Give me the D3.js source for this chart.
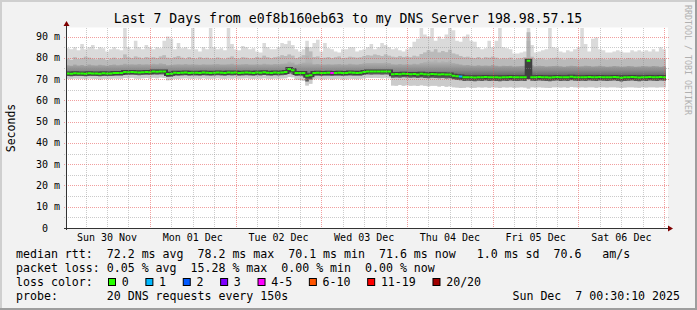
<!DOCTYPE html>
<html><head><meta charset="utf-8">
<script src="https://cdn.jsdelivr.net/npm/d3@7"></script>
<style>
html,body{margin:0;padding:0;background:#f2f2f2;}
svg{display:block;}
text{font-family:"DejaVu Sans Mono",monospace;white-space:pre;}
</style>
</head><body>
<svg id="chart" width="697" height="310"></svg>
<script>
// ---------- DATA ----------
const titleText = "Last 7 Days from e0f8b160eb63 to my DNS Server 198.98.57.15";
const startTime = new Date(Date.UTC(2025, 10, 30, 0, 30, 10));
const endTime = new Date(Date.UTC(2025, 11, 7, 0, 30, 10));

// hourly values (ms), index 0 = Sun 30 Nov 00:30
const rttMedian = [
 72.6,72.5,72.7,72.6,72.6,72.5,72.7,72.6,72.6,72.5,72.7,72.6,72.6,72.8,72.8,72.9,73.3,73.2,73.3,73.2,73.1,73.2,73.3,73.2,
 73.5,73.4,73.6,73.5,72.4,72.5,73.0,72.9,73.0,73.1,72.9,73.0,73.0,72.9,73.1,73.0,72.9,73.0,73.1,73.0,72.9,73.1,73.0,73.1,
 72.9,73.0,73.1,73.0,72.9,73.1,73.0,73.2,73.0,72.9,73.1,73.0,73.1,73.3,74.7,74.2,72.8,72.9,72.8,71.6,71.8,72.9,73.0,72.8,
 72.9,73.0,72.8,72.9,73.0,72.8,72.9,73.1,73.0,72.9,73.0,73.3,73.6,73.5,73.6,73.6,73.5,73.6,73.5,72.3,72.4,72.3,72.5,72.4,
 72.3,72.4,72.2,72.5,72.3,72.2,72.4,72.3,72.2,72.3,72.1,72.2,71.6,71.3,71.2,70.8,70.9,70.8,70.7,70.9,70.8,71.0,70.8,70.9,
 70.8,70.7,70.9,70.8,71.0,70.8,70.8,70.9,70.8,78.6,70.9,70.8,71.0,70.9,70.8,70.7,70.9,71.0,70.8,70.9,70.8,71.1,70.9,70.8,
 70.9,70.8,71.0,70.9,70.8,71.0,70.9,70.8,70.9,71.0,70.8,70.6,70.8,70.9,71.0,70.8,70.7,70.9,70.8,71.0,70.9,70.8,71.0,70.9
];
const rttP25 = [
 71.4,71.3,71.5,71.4,71.4,71.3,71.5,71.4,71.4,71.3,71.5,71.4,71.4,71.6,71.5,71.6,71.9,71.9,72.0,71.9,71.8,71.9,72.0,71.9,
 72.1,72.0,72.2,72.1,71.0,71.1,71.7,71.6,71.7,71.8,71.6,71.7,71.7,71.6,71.8,71.7,71.6,71.7,71.8,71.7,71.6,71.8,71.7,71.8,
 71.6,71.7,71.8,71.7,71.6,71.8,71.7,71.9,71.7,71.6,71.8,71.7,71.8,71.9,72.6,72.3,71.4,71.5,71.3,68.8,69.8,71.5,71.6,71.4,
 71.5,71.6,71.4,71.5,71.6,71.4,71.5,71.7,71.6,71.5,71.6,71.9,72.1,72.0,72.1,72.1,72.0,72.1,72.0,70.6,70.7,70.6,70.8,70.7,
 70.6,70.7,70.5,70.7,70.5,70.4,70.6,70.5,70.4,70.5,70.3,70.4,69.9,69.6,69.4,69.1,69.2,69.1,69.0,69.2,69.1,69.3,69.1,69.2,
 69.1,69.0,69.2,69.1,69.3,69.1,69.1,69.2,69.1,71.0,69.2,69.1,69.3,69.2,69.1,69.0,69.2,69.3,69.1,69.2,69.1,69.4,69.2,69.1,
 69.2,69.1,69.3,69.2,69.1,69.3,69.2,69.1,69.2,69.3,69.1,68.9,69.1,69.2,69.3,69.1,69.0,69.2,69.1,69.3,69.2,69.1,69.3,69.2
];
const rttMin = [
 70.2,70.0,70.3,70.1,70.2,69.9,70.3,70.1,70.0,69.8,70.2,70.1,70.0,70.3,70.1,70.2,70.5,70.4,70.6,70.3,70.2,70.4,70.5,70.3,
 70.6,70.4,70.7,70.5,69.5,69.7,70.2,70.0,70.3,70.4,70.1,70.2,70.3,70.0,70.4,70.2,70.1,70.3,70.4,70.2,70.0,70.3,70.2,70.4,
 70.1,70.3,70.4,70.2,70.0,70.3,70.2,70.4,70.2,70.0,70.3,70.2,70.3,70.4,71.0,70.8,69.8,69.6,69.2,67.0,67.8,69.9,70.1,69.8,
 69.9,70.1,69.8,70.0,70.1,69.8,69.9,70.2,70.0,69.9,70.1,70.4,70.6,70.5,70.6,70.5,70.4,70.6,70.4,67.0,66.8,67.2,66.9,67.1,
 66.8,67.0,66.7,67.1,66.8,66.6,66.9,66.8,66.5,66.7,66.4,66.6,66.2,66.0,65.8,65.9,66.1,65.8,65.9,66.2,66.0,66.1,65.9,66.2,
 66.0,65.8,66.1,66.0,66.2,65.9,66.0,66.1,66.0,65.6,66.1,66.0,66.2,66.0,65.9,65.8,66.1,66.2,66.0,66.1,65.9,66.3,66.1,66.0,
 66.1,66.0,66.2,66.1,65.9,66.2,66.1,66.0,66.1,66.2,66.0,65.8,66.0,66.1,66.2,66.0,65.9,66.1,66.0,66.2,66.1,66.0,66.2,66.1
];
const rttP75 = [
 76.5,76.2,76.8,76.4,76.6,76.3,76.9,76.5,76.4,76.7,76.5,76.3,76.6,76.8,76.5,76.7,77.2,76.9,77.0,76.8,77.1,76.9,77.0,76.8,
 77.2,77.0,77.4,77.1,76.5,76.6,76.9,77.0,76.8,77.1,76.9,77.0,76.8,76.7,77.0,76.9,76.8,77.0,77.1,76.9,76.8,77.0,77.2,76.9,
 76.8,77.0,77.1,76.9,76.8,77.0,76.9,77.2,77.0,76.8,77.1,77.0,77.2,77.3,78.3,77.8,76.9,77.2,77.8,81.0,79.5,77.0,77.1,76.8,
 76.9,77.0,76.8,77.0,77.1,76.8,76.9,77.2,77.0,76.9,77.1,77.4,77.6,77.5,77.7,77.6,77.5,77.8,77.6,77.0,76.8,77.1,76.9,77.0,
 76.8,77.2,77.0,77.6,78.0,78.5,78.2,78.8,77.9,78.4,78.0,78.6,77.5,77.2,76.8,76.5,76.6,76.4,76.3,76.5,76.2,76.4,76.3,76.6,
 76.3,76.0,76.2,76.1,76.3,75.9,76.0,76.1,76.2,88.0,76.5,76.0,76.2,76.1,75.9,76.0,76.1,76.3,76.0,75.8,76.0,76.2,76.1,75.9,
 76.0,76.2,76.1,75.9,76.0,76.2,76.0,75.8,75.9,76.1,76.0,75.8,75.9,76.1,76.0,75.8,75.9,76.1,76.0,75.9,76.1,76.0,75.8,76.0
];
const rttP90 = [
 79.5,79.0,80.2,79.4,79.8,80.5,80.0,79.6,79.2,79.8,79.5,79.0,79.6,80.0,79.3,79.7,81.5,80.2,79.8,80.6,80.1,79.7,80.4,80.0,
 80.3,79.8,80.6,81.2,80.0,79.5,80.2,80.8,80.0,79.6,80.4,79.9,79.5,80.2,79.8,80.0,79.6,79.8,80.1,79.7,79.4,80.0,80.6,79.8,
 79.6,80.2,80.0,79.5,79.8,80.4,80.0,81.0,80.2,79.8,80.3,80.5,81.2,80.8,81.5,81.0,79.8,80.4,81.2,85.0,83.0,80.4,80.6,79.8,
 80.0,80.4,79.8,80.2,80.6,79.8,80.0,80.5,80.2,80.0,80.3,80.8,81.2,81.0,81.5,81.2,80.8,81.6,81.0,80.5,80.2,80.8,80.4,80.6,
 80.2,81.0,80.6,81.8,82.5,83.5,82.8,84.0,82.5,83.2,82.6,83.8,82.0,81.5,80.8,80.2,80.5,80.0,79.8,80.4,79.6,80.2,80.0,80.5,
 80.0,79.4,79.8,79.6,80.0,79.2,79.5,79.8,80.2,92.0,80.5,79.4,79.8,79.6,79.2,79.5,79.8,80.0,79.5,79.2,79.6,79.9,79.5,79.3,
 79.5,79.8,79.6,79.3,79.5,79.8,79.4,79.2,79.5,79.7,79.5,79.2,79.4,79.8,79.6,79.3,79.5,79.7,79.5,79.4,79.6,79.5,79.3,79.6
];
const rttMax = [
 84.5,84,85,83.5,86.5,84,85,86,84,85,84.5,83,84,85,84,83.5,94,85,84,88,85,84,86,85,
 84,85,84.5,88,90,89,84,87,84.5,85,84,94,84,83,85,84,94,85,84,84.5,83.5,94,86.5,84,
 83.5,85.5,85,84,84.5,83,82.5,87,85,84,84,85,87,86.5,88,86,84,83,84,88,85,87,88.5,83,
 87,84.5,84,83,82.5,84,84,85,85,83,83.5,84,85,86.5,84,85,87,86,85,84,84.5,83.5,83,84,
 85,87.5,89,94,91,90,94,88,90,89,91,94,93,88,87.5,90,91,88,87.5,85,84,84.5,88,85,
 88,94,85,84.5,84,82,82,82.5,83,94,86,82.5,83,83.5,84,94,85,84.5,83,82.5,83.5,83,84,85,
 94,86.5,83,89,89.5,84,83.5,82.5,82.5,83,83.5,83,82.5,82.5,83.5,83,83.5,83,83.5,83,84,83,85,84
];
// [hour index, lost pings out of 20]
const lossEvents = [[74, 4], [110, 1]];

const yTickValues = [0, 10, 20, 30, 40, 50, 60, 70, 80, 90];
const yTickLabels = ["0  ", "10 m", "20 m", "30 m", "40 m", "50 m", "60 m", "70 m", "80 m", "90 m"];
const dayLabels = ["Sun 30 Nov", "Mon 01 Dec", "Tue 02 Dec", "Wed 03 Dec", "Thu 04 Dec", "Fri 05 Dec", "Sat 06 Dec"];

const statRttLine = "median rtt:  72.2 ms avg  78.2 ms max  70.1 ms min  71.6 ms now   1.0 ms sd  70.6   am/s";
const statLossLine = "packet loss: 0.05 % avg  15.28 % max  0.00 % min  0.00 % now";
const lossLabels = ["0", "1", "2", "3", "4-5", "6-10", "11-19", "20/20"];
const lossColors = ["#26ff00", "#00b8ff", "#0059ff", "#7e00ff", "#ff00ff", "#ff5500", "#ff0000", "#a10000"];
const lossThresholds = [0, 1, 2, 3, 4, 6, 11, 20];
const probeLine = "probe:       20 DNS requests every 150s";
const dateText = "Sun Dec  7 00:30:10 2025";
const watermark = "RRDTOOL / TOBI OETIKER";

// ---------- DRAW ----------
const W = 697, H = 310;
const svg = d3.select("#chart");
const L = 66, R = 666, T = 28, B = 228;
const x = d3.scaleUtc().domain([startTime, endTime]).range([L, R]);
const y = d3.scaleLinear().domain([0, 94]).range([B, T]);

// frame
svg.append("rect").attr("x",0).attr("y",0).attr("width",W).attr("height",H).attr("fill","#f2f2f2");
svg.append("path").attr("d",`M0,1H${W}M1,0V${H}`).attr("stroke","#cfcfcf").attr("stroke-width",2);
svg.append("path").attr("d",`M0,${H-1}H${W}M${W-1},0V${H}`).attr("stroke","#9e9e9e").attr("stroke-width",2);

// canvas
svg.append("rect").attr("x",L).attr("y",T-0.5).attr("width",R-L+2).attr("height",B-T+0.5).attr("fill","#ffffff");

const defs = svg.append("defs");
defs.append("clipPath").attr("id","plotclip")
  .append("rect").attr("x",L).attr("y",T-0.5).attr("width",R-L).attr("height",B-T+0.5);
const grad = defs.append("linearGradient").attr("id","core").attr("gradientUnits","userSpaceOnUse")
  .attr("x1",0).attr("x2",0).attr("y1",y(78)).attr("y2",y(71));
grad.append("stop").attr("offset",0).attr("stop-color","#b2b2b2");
grad.append("stop").attr("offset",0.55).attr("stop-color","#8a8a8a");
grad.append("stop").attr("offset",1).attr("stop-color","#5c5c5c");

const n = Math.min(rttMedian.length, rttP25.length, rttMin.length, rttP75.length, rttP90.length, rttMax.length);
const data = d3.range(n).map(i => ({
  t: d3.utcHour.offset(startTime, i),
  mn: rttMin[i], p25: rttP25[i], med: rttMedian[i], p75: rttP75[i], p90: rttP90[i], mx: rttMax[i]
}));
data.push(Object.assign({}, data[n-1], {t: endTime}));

const plot = svg.append("g").attr("clip-path","url(#plotclip)");
const band = (lo, hi) => d3.area().curve(d3.curveStepAfter)
  .x(d => x(d.t)).y0(d => y(d[lo])).y1(d => y(d[hi]));
plot.append("path").datum(data).attr("d", band("mn","mx")).attr("fill","#dadada");
plot.append("path").datum(data).attr("d", band("mn","p90")).attr("fill","#cbcbcb");
plot.append("path").datum(data).attr("d", band("p25","p90")).attr("fill","#bababa");
plot.append("path").datum(data).attr("d", band("p25","p75")).attr("fill","url(#core)");

// grid
const grid = svg.append("g");
const gridMinor = "rgba(140,140,140,0.45)", gridMajor = "rgba(229,80,80,0.55)";
d3.range(5, 94, 10).forEach(v => {
  const yy = Math.round(y(v)) + 0.5;
  grid.append("line").attr("x1",L-2).attr("x2",R+3).attr("y1",yy).attr("y2",yy)
    .attr("stroke",gridMinor).attr("stroke-dasharray","1,1");
});
yTickValues.filter(v => v > 0).forEach(v => {
  const yy = Math.round(y(v)) + 0.5;
  grid.append("line").attr("x1",L-2).attr("x2",R+3).attr("y1",yy).attr("y2",yy)
    .attr("stroke",gridMajor).attr("stroke-dasharray","1,1");
});
d3.utcHour.every(6).range(startTime, endTime).forEach(t => {
  const major = t.getUTCHours() === 0;
  const xx = Math.round(x(t)) + 0.5;
  grid.append("line").attr("x1",xx).attr("x2",xx).attr("y1",T).attr("y2",B+2)
    .attr("stroke", major ? gridMajor : gridMinor).attr("stroke-dasharray","1,1");
});

// median: dark step line, then loss-coloured horizontal segments
const medLine = d3.line().curve(d3.curveStepAfter).x(d => x(d.t)).y(d => y(d.med));
plot.append("path").datum(data).attr("d", medLine).attr("fill","none")
  .attr("stroke","#404040").attr("stroke-width",4);
const colorFor = lost => { let ci = 0; lossThresholds.forEach((th, k) => { if (lost >= th) ci = k; }); return lossColors[ci]; };
const lossByIndex = new Map(lossEvents);
plot.append("g").selectAll("line").data(d3.range(n)).join("line")
  .attr("x1", i => x(data[i].t)).attr("x2", i => x(data[i+1].t))
  .attr("y1", i => y(data[i].med)).attr("y2", i => y(data[i].med))
  .attr("stroke", i => colorFor(lossByIndex.get(i) || 0)).attr("stroke-width",2);

// axes
const axisColor = "#333333", arrowColor = "#7f0000";
svg.append("line").attr("x1",L+0.5).attr("x2",L+0.5).attr("y1",B+2).attr("y2",T-4).attr("stroke",axisColor);
svg.append("line").attr("x1",L-2).attr("x2",R+5).attr("y1",B+0.5).attr("y2",B+0.5).attr("stroke",axisColor);
svg.append("path").attr("d",`M${L-2.5},${T-2}L${L+3.5},${T-2}L${L+0.5},${T-7}Z`).attr("fill",arrowColor);
svg.append("path").attr("d",`M${R+2},${B-2.5}L${R+2},${B+3.5}L${R+7},${B+0.5}Z`).attr("fill",arrowColor);

// y labels
svg.append("g").selectAll("text").data(yTickValues).join("text")
  .attr("x", 60).attr("y", v => y(v) + 3.5).attr("text-anchor","end")
  .attr("font-size", 10).attr("fill","#000")
  .text((v, i) => yTickLabels[i]);

// x labels
svg.append("g").selectAll("text").data(dayLabels).join("text")
  .attr("x", (d, i) => x(d3.utcHour.offset(d3.utcDay.offset(d3.utcDay.floor(startTime), i), 12)))
  .attr("y", 241).attr("text-anchor","middle").attr("font-size",10).attr("fill","#000")
  .text(d => d);

// title
svg.append("text").attr("x",348).attr("y",23).attr("text-anchor","middle")
  .attr("font-size",13.2).attr("fill","#000").text(titleText);

// vertical label
svg.append("text").attr("transform","translate(14.5,128) rotate(-90)").attr("text-anchor","middle")
  .attr("font-size",11.5).attr("fill","#000").text("Seconds");

// watermark
svg.append("text").attr("transform","translate(685,5) rotate(90)")
  .attr("font-size",8.3).attr("fill","#b0b0b0").text(watermark);

// legend
const lf = 11.6;
svg.append("text").attr("x",16).attr("y",257.5).attr("font-size",lf).text(statRttLine);
svg.append("text").attr("x",16).attr("y",271.5).attr("font-size",lf).text(statLossLine);
svg.append("text").attr("x",16).attr("y",285.5).attr("font-size",lf).text("loss color:");
let bx = 108.5;
lossLabels.forEach((lab, i) => {
  svg.append("rect").attr("x",bx).attr("y",278.5).attr("width",7).attr("height",7)
    .attr("fill",lossColors[i]).attr("stroke","#000").attr("stroke-width",1);
  svg.append("text").attr("x",bx+13.2).attr("y",285.5).attr("font-size",lf).text(lab);
  bx += 30.4 + 6.98 * lab.length;
});
svg.append("text").attr("x",16).attr("y",299.5).attr("font-size",lf).text(probeLine);
svg.append("text").attr("x",680).attr("y",299.5).attr("text-anchor","end").attr("font-size",lf).text(dateText);
</script>
</body></html>
